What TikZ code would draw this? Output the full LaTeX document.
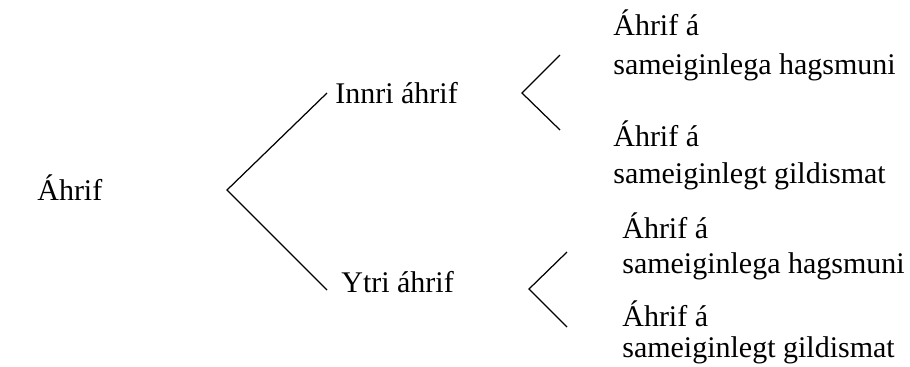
\documentclass[tikz,border=0pt]{standalone}
\usepackage{fontspec}
\setmainfont{Liberation Serif}
\usepackage{tikz}
\tikzset{lbl/.style={anchor=base west, inner sep=0pt, font=\fontsize{17.07pt}{20pt}\selectfont}}
\tikzset{brk/.style={black, line width=0.7pt}}

\begin{document}
\begin{tikzpicture}[x=0.02cm, y=-0.02cm]
      \useasboundingbox (0,0) rectangle (910,366);
      \node [lbl] (ahrif) at (37,200) {Áhrif};
      \node [lbl] (innri) at (335,103) {Innri áhrif};
      \node [lbl] (ytri) at (341,292) {Ytri áhrif};

      \node [lbl] (ia1) at (613,35) {Áhrif á};
      \node [lbl] (ia2) at (613,74) {sameiginlega hagsmuni};
      \node [lbl] (ib1) at (613,146) {Áhrif á};
      \node [lbl] (ib2) at (613,183) {sameiginlegt gildismat};

      \node [lbl] (ya1) at (622,238) {Áhrif á};
      \node [lbl] (ya2) at (622,273) {sameiginlega hagsmuni};
      \node [lbl] (yb1) at (622,326) {Áhrif á};
      \node [lbl] (yb2) at (622,357) {sameiginlegt gildismat};

      % brackets
      \coordinate (v0) at (227,190);
      \coordinate (v0a) at (327,93);
      \coordinate (v0b) at (327,290);
      \draw [brk] (v0a) -- (v0) -- (v0b);

      \coordinate (v1) at (522,93);
      \coordinate (v1a) at (560,55);
      \coordinate (v1b) at (560,130);
      \draw [brk] (v1a) -- (v1) -- (v1b);

      \coordinate (v2) at (529,289);
      \coordinate (v2a) at (567,252);
      \coordinate (v2b) at (567,327);
      \draw [brk] (v2a) -- (v2) -- (v2b);
\end{tikzpicture}
\end{document}
